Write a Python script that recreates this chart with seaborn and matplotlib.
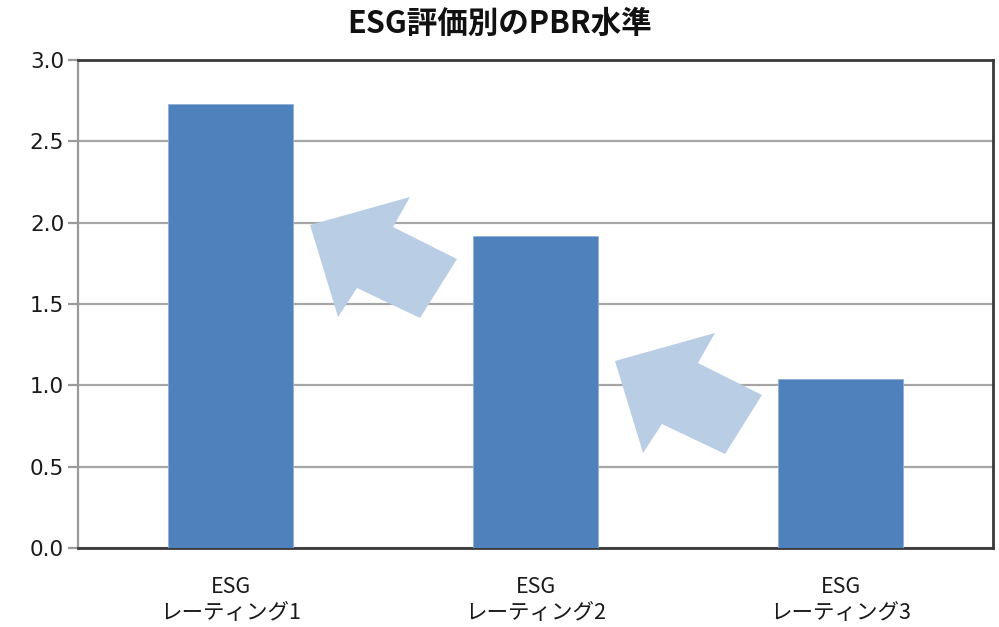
import matplotlib
matplotlib.use("Agg")
import matplotlib.pyplot as plt
from matplotlib.patches import Polygon
import numpy as np
import pandas as pd
import seaborn as sns

# PBR level by ESG rating
categories = ["ESG\nレーティング1", "ESG\nレーティング2", "ESG\nレーティング3"]
pbr_values = [2.73, 1.92, 1.04]
y_ticks = [0.0, 0.5, 1.0, 1.5, 2.0, 2.5, 3.0]
title = "ESG評価別のPBR水準"

df = pd.DataFrame({"rating": categories, "pbr": pbr_values})

sns.set_theme(style="white")
plt.rcParams["font.family"] = ["Noto Sans CJK JP", "DejaVu Sans"]

fig = plt.figure(figsize=(9.99, 6.27), dpi=100)
ax = fig.add_axes([0.0781, 0.126, 0.9159, 0.7783])

sns.barplot(data=df, x="rating", y="pbr", color="#4F81BD", saturation=1,
            width=0.41, ax=ax, zorder=3, edgecolor="#8FB0D8", linewidth=0.6)

ax.set_xlim(-0.5, len(categories) - 0.5)
ax.set_ylim(0, 3.0)
ax.set_yticks(y_ticks)
ax.set_yticklabels([f"{v:.1f}" for v in y_ticks], fontsize=15.5,
                   family="DejaVu Sans", color="#1A1A1A")
ax.set_xlabel("")
ax.set_ylabel("")

# horizontal gridlines
ax.yaxis.grid(True, color="#A6A6A6", linewidth=1.6, zorder=0)
ax.set_axisbelow(True)

# frame: grey value axis, dark border elsewhere
ax.spines["left"].set_color("#9A9A9A")
ax.spines["left"].set_linewidth(1.6)
for side in ("top", "right", "bottom"):
    ax.spines[side].set_color("#3A3A3A")
    ax.spines[side].set_linewidth(2.0)
    ax.spines[side].set_visible(True)

ax.tick_params(axis="y", which="major", left=True, length=7, width=1.6,
               color="#9A9A9A", pad=3)
ax.tick_params(axis="x", which="major", bottom=False, pad=14)
for lbl in ax.get_xticklabels():
    lbl.set_fontsize(15.5)
    lbl.set_color("#1A1A1A")
    lbl.set_linespacing(1.25)

# block arrows pointing up-left between neighbouring ratings (axes fraction)
arrow_shape = np.array([
    [0.2536, 0.6619],
    [0.3628, 0.7193],
    [0.3443, 0.6578],
    [0.4142, 0.5922],
    [0.3738, 0.4713],
    [0.3049, 0.5328],
    [0.2842, 0.4734],
])
for shift in ([0.0, 0.0], [0.3333, -0.2787]):
    ax.add_patch(Polygon(arrow_shape + np.array(shift), closed=True,
                         transform=ax.transAxes, facecolor="#B9CDE5",
                         edgecolor="none", zorder=4))

fig.text(0.5, 0.962, title, ha="center", va="center", fontsize=22,
         fontweight="bold", color="#111111")

fig.savefig("out.png", dpi=100)
